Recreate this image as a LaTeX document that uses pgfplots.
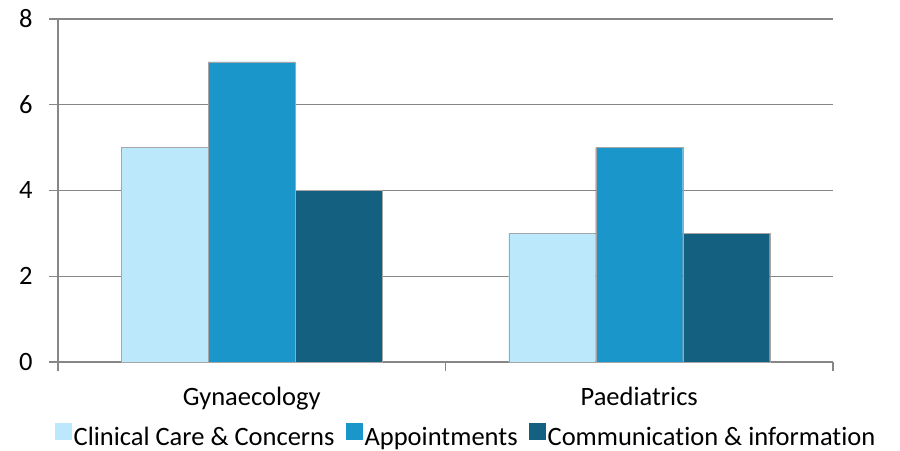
\documentclass[border=0pt]{standalone}
\usepackage{fontspec}
\setmainfont{Carlito}[Ligatures=NoCommon]
\usepackage{pgfplots}
\pgfplotsset{compat=1.18}
\definecolor{cA}{RGB}{187,232,250}
\definecolor{cB}{RGB}{27,150,203}
\definecolor{cC}{RGB}{20,96,128}
\definecolor{gridc}{RGB}{134,134,134}
\newcommand\cf{\fontsize{26.5}{31}\selectfont}
\begin{document}
\begin{tikzpicture}
\begin{axis}[
 scale only axis, width=775pt, height=343pt,
 xmin=0,xmax=2,ymin=0,ymax=8,
 clip=false,
 axis lines*=left,
 axis line style={gridc, line width=1.3pt},
 ytick={0,2,4,6,8},
 yticklabel style={xshift=-13pt},
 xtick={0,1,2}, xticklabels={,,},
 extra x ticks={0.5,1.5},
 extra x tick labels={Gynaecology,Paediatrics},
 extra x tick style={major tick length=0pt, tick style={draw=none}, tick label style={yshift=-22pt}},
 ymajorgrids, grid style={gridc, line width=1.3pt},
 tick align=outside, major tick length=9pt,
 tick style={gridc, line width=1.3pt},
 tick label style={font=\cf},
 /pgf/number format/assume math mode=true,
 ybar, bar width=0.2245,
 legend style={draw=none, fill=none, font=\cf, at={(0.5265,-0.2216)}, anchor=center, legend columns=3,
   nodes={text height=19pt, text depth=6pt, inner xsep=2pt},
   /tikz/every even column/.append style={column sep=9pt}},
 legend image code/.code={\fill[#1,draw=none] (0pt,-1pt) rectangle (17pt,16pt);},
]
\addplot[fill=cA, draw=black!35, bar shift=-0.2245] coordinates {(0.5,5) (1.5,3)};
\addlegendentry{Clinical Care \& Concerns}
\addplot[fill=cB, draw=black!35, bar shift=0] coordinates {(0.5,7) (1.5,5)};
\addlegendentry{Appointments}
\addplot[fill=cC, draw=black!35, bar shift=0.2245] coordinates {(0.5,4) (1.5,3)};
\addlegendentry{Communication \& information}
\coordinate (bl) at (rel axis cs:-0.07484,-0.2595);
\coordinate (tr) at (rel axis cs:1.0865,1.0554);
\end{axis}
\pgfresetboundingbox
\path (bl) rectangle (tr);
\end{tikzpicture}
\end{document}
